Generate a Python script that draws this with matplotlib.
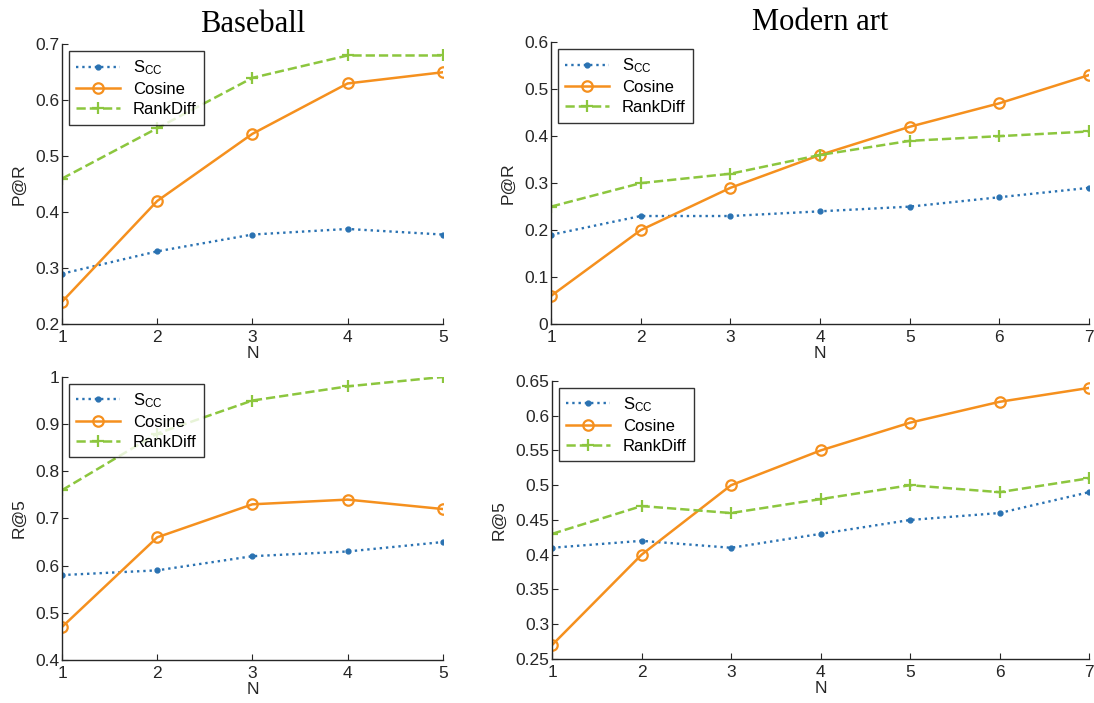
import matplotlib.pyplot as plt

plt.rcParams['font.family'] = ['Liberation Sans', 'DejaVu Sans']
plt.rcParams['mathtext.default'] = 'regular'

# Baseball, N = 1..5
n_base = [1, 2, 3, 4, 5]
base_par_scc = [0.29, 0.33, 0.36, 0.37, 0.36]
base_par_cos = [0.24, 0.42, 0.54, 0.63, 0.65]
base_par_rank = [0.46, 0.55, 0.64, 0.68, 0.68]
base_r5_scc = [0.58, 0.59, 0.62, 0.63, 0.65]
base_r5_cos = [0.47, 0.66, 0.73, 0.74, 0.72]
base_r5_rank = [0.76, 0.88, 0.95, 0.98, 1.00]

# Modern art, N = 1..7
n_art = [1, 2, 3, 4, 5, 6, 7]
art_par_scc = [0.19, 0.23, 0.23, 0.24, 0.25, 0.27, 0.29]
art_par_cos = [0.06, 0.20, 0.29, 0.36, 0.42, 0.47, 0.53]
art_par_rank = [0.25, 0.30, 0.32, 0.36, 0.39, 0.40, 0.41]
art_r5_scc = [0.41, 0.42, 0.41, 0.43, 0.45, 0.46, 0.49]
art_r5_cos = [0.27, 0.40, 0.50, 0.55, 0.59, 0.62, 0.64]
art_r5_rank = [0.43, 0.47, 0.46, 0.48, 0.50, 0.49, 0.51]

blue = '#2a72b2'
orange = '#f5901e'
green = '#8cc63e'
axcol = '#262626'

fig = plt.figure(figsize=(10.94, 7.03), dpi=100)


def panel(rect, n, scc, cos, rank, ylim, yticks, ylabel, title=None):
    ax = fig.add_axes(rect)
    ax.plot(n, scc, ':', color=blue, marker='.', markersize=7, lw=1.7, label='S$_{CC}$')
    ax.plot(n, cos, '-', color=orange, marker='o', markersize=7.5, mfc='none',
            mew=1.6, lw=1.8, label='Cosine')
    ax.plot(n, rank, '--', color=green, marker='+', markersize=8.5, mew=1.6,
            lw=1.8, label='RankDiff')
    ax.set_xlim(n[0], n[-1])
    ax.set_xticks(n)
    ax.set_ylim(*ylim)
    ax.set_yticks(yticks)
    ax.set_yticklabels([('%g' % t) for t in yticks])
    for s in ['top', 'right']:
        ax.spines[s].set_visible(False)
    for s in ['left', 'bottom']:
        ax.spines[s].set_color(axcol)
        ax.spines[s].set_linewidth(1.0)
    ax.tick_params(direction='in', length=4, colors=axcol, labelsize=12.5, pad=2)
    ax.tick_params(axis='x', pad=4)
    ax.set_xlabel('N', fontsize=12.5, color=axcol, labelpad=1)
    ax.set_ylabel(ylabel, fontsize=12.5, color=axcol, labelpad=6)
    leg = ax.legend(loc='upper left', fontsize=12, frameon=True, fancybox=False,
                    edgecolor='black', handlelength=2.6, borderaxespad=0.4,
                    labelspacing=0.3, borderpad=0.45)
    leg.get_frame().set_linewidth(1.0)
    if title:
        ax.set_title(title, family='Liberation Serif', fontsize=22, pad=9)
    return ax


panel([0.0567, 0.539, 0.348, 0.398], n_base, base_par_scc, base_par_cos, base_par_rank,
      (0.2, 0.7), [0.2, 0.3, 0.4, 0.5, 0.6, 0.7], 'P@R', 'Baseball')
panel([0.5037, 0.539, 0.4918, 0.401], n_art, art_par_scc, art_par_cos, art_par_rank,
      (0, 0.6), [0, 0.1, 0.2, 0.3, 0.4, 0.5, 0.6], 'P@R', 'Modern art')
panel([0.0567, 0.0612, 0.348, 0.4026], n_base, base_r5_scc, base_r5_cos, base_r5_rank,
      (0.4, 1.0), [0.4, 0.5, 0.6, 0.7, 0.8, 0.9, 1.0], 'R@5')
panel([0.5046, 0.0626, 0.4909, 0.3955], n_art, art_r5_scc, art_r5_cos, art_r5_rank,
      (0.25, 0.65), [0.25, 0.3, 0.35, 0.4, 0.45, 0.5, 0.55, 0.6, 0.65], 'R@5')

fig.savefig('out.png', dpi=100)
